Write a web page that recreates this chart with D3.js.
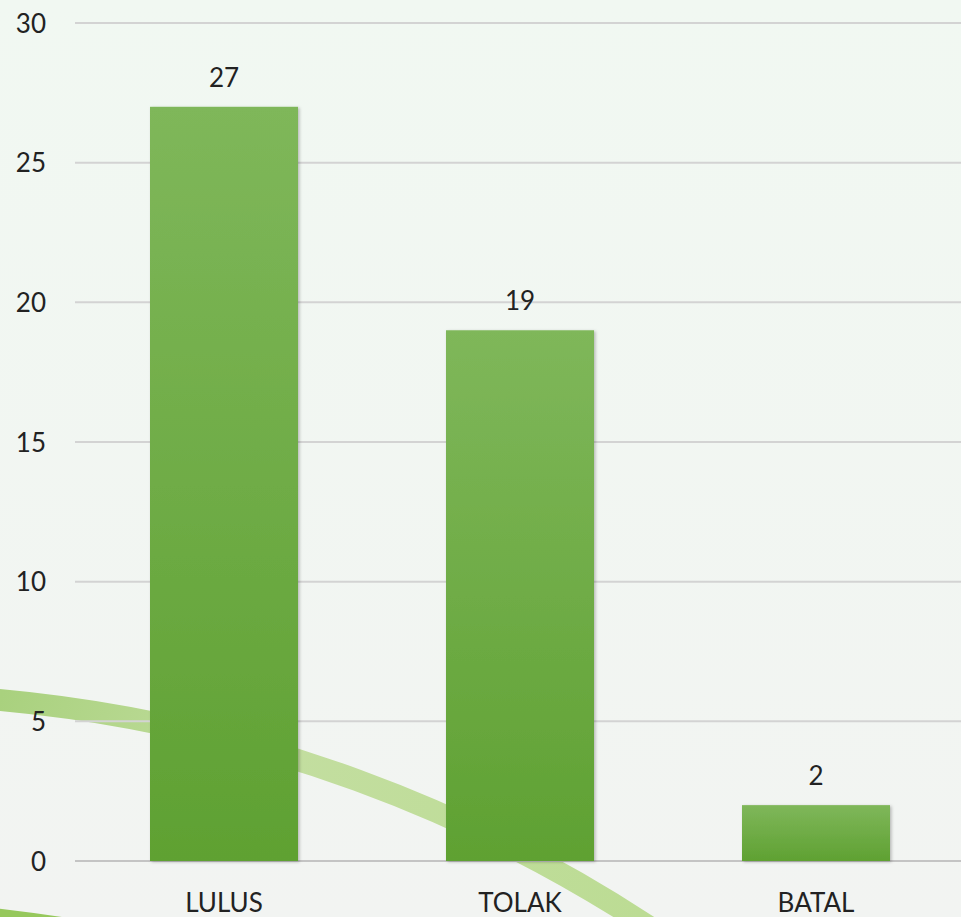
<!DOCTYPE html>
<html><head><meta charset="utf-8">
<script src="https://cdn.jsdelivr.net/npm/d3@7"></script>
<style>html,body{margin:0;padding:0;overflow:hidden;background:#f2f6f2;}</style>
</head><body>
<script>
const categories = ["LULUS", "TOLAK", "BATAL"];
const values = [27, 19, 2];
const yTicks = [0, 5, 10, 15, 20, 25, 30];

const W = 961, H = 917;
const svg = d3.select("body").append("svg").attr("width", W).attr("height", H);
const defs = svg.append("defs");

const bg = defs.append("linearGradient").attr("id","bg").attr("x1",0).attr("y1",0).attr("x2",0).attr("y2",1);
bg.append("stop").attr("offset","0%").attr("stop-color","#f1f8f2");
bg.append("stop").attr("offset","100%").attr("stop-color","#f2f4f2");

const barG = defs.append("linearGradient").attr("id","barG").attr("x1",0).attr("y1",0).attr("x2",0).attr("y2",1);
barG.append("stop").attr("offset","0%").attr("stop-color","#7fb75a");
barG.append("stop").attr("offset","100%").attr("stop-color","#5fa132");

const arcG = defs.append("linearGradient").attr("id","arcG").attr("gradientUnits","userSpaceOnUse")
  .attr("x1",0).attr("y1",700).attr("x2",640).attr("y2",917);
arcG.append("stop").attr("offset","0%").attr("stop-color","#a9d17e");
arcG.append("stop").attr("offset","40%").attr("stop-color","#c3dea0");
arcG.append("stop").attr("offset","100%").attr("stop-color","#bcdc94");

const sh = defs.append("filter").attr("id","sh").attr("x","-10%").attr("y","-10%").attr("width","130%").attr("height","130%");
sh.append("feDropShadow").attr("dx",1.5).attr("dy",1).attr("stdDeviation",1.5).attr("flood-color","#000").attr("flood-opacity",0.25);

svg.append("rect").attr("width",W).attr("height",H).attr("fill","url(#bg)");

// decorative arcs
const cx = -130, cy = 2114, R = 1420;
const arcPath = d3.path();
const a0 = Math.atan2(690 - cy, -20 - cx), a1 = Math.atan2(960 - cy, 700 - cx);
arcPath.arc(cx, cy, R, a0, a1);
svg.append("path").attr("d", arcPath.toString()).attr("fill","none")
  .attr("stroke","url(#arcG)").attr("stroke-width",22);

// thin sliver at very bottom-left
const c2x = -200, c2y = 2620, R2 = 1718;
const arc2 = d3.path();
arc2.arc(c2x, c2y, R2, Math.atan2(900-c2y, -40-c2x), Math.atan2(940-c2y, 150-c2x));
svg.append("path").attr("d", arc2.toString()).attr("fill","none")
  .attr("stroke","#96c85c").attr("stroke-width",10);

const y = d3.scaleLinear().domain([0, 30]).range([861, 23]);
const x = d3.scaleBand().domain(categories).range([76, 964]).paddingInner(0.5).paddingOuter(0.25);

// gridlines
const grid = svg.append("g");
grid.selectAll("line").data(yTicks).join("line")
  .attr("x1", 75).attr("x2", W)
  .attr("y1", d => y(d)).attr("y2", d => y(d))
  .attr("stroke", d => d === 0 ? "#c4c4c4" : "#d3d3d3").attr("stroke-width", 2);

// y labels
svg.append("g").selectAll("text").data(yTicks).join("text")
  .attr("x", 46).attr("y", d => y(d) + 9.5)
  .attr("text-anchor","end")
  .attr("font-family","Lato, 'Open Sans', sans-serif").attr("font-size",26)
  .attr("fill","#222").text(d => d);

// bars
svg.append("g").selectAll("rect").data(values).join("rect")
  .attr("x", (d,i) => x(categories[i]))
  .attr("width", x.bandwidth())
  .attr("y", d => y(d))
  .attr("height", d => y(0) - y(d))
  .attr("fill","url(#barG)")
  .attr("filter","url(#sh)");

// value labels
svg.append("g").selectAll("text").data(values).join("text")
  .attr("x", (d,i) => x(categories[i]) + x.bandwidth()/2)
  .attr("y", d => y(d) - 20)
  .attr("text-anchor","middle")
  .attr("font-family","Lato, 'Open Sans', sans-serif").attr("font-size",26)
  .attr("fill","#222").text(d => d);

// category labels
svg.append("g").selectAll("text").data(categories).join("text")
  .attr("x", d => x(d) + x.bandwidth()/2)
  .attr("y", 912)
  .attr("text-anchor","middle")
  .attr("font-family","Lato, 'Open Sans', sans-serif").attr("font-size",26)
  .attr("fill","#222").text(d => d);
</script>
</body></html>
